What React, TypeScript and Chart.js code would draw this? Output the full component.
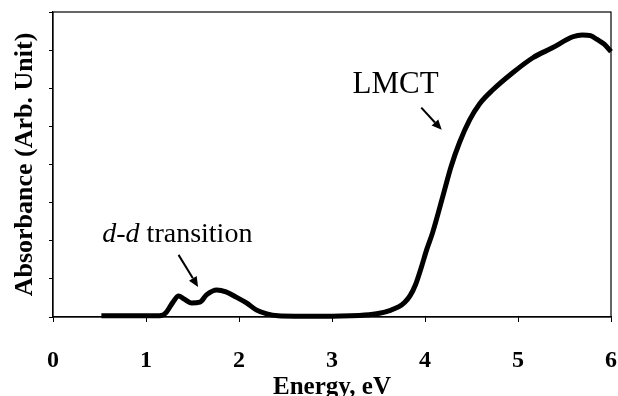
import React, { useEffect, useRef } from "react";
import { Chart, registerables } from "chart.js";

Chart.register(...registerables);

const energy = [0.52, 0.8, 1.1, 1.18, 1.22, 1.29, 1.35, 1.41, 1.49, 1.58, 1.65, 1.76, 1.86, 1.97, 2.08, 2.19, 2.3, 2.42, 2.6, 3.0, 3.2, 3.35, 3.51, 3.62, 3.72, 3.78, 3.84, 3.9, 3.96, 4.02, 4.08, 4.19, 4.28, 4.37, 4.48, 4.59, 4.73, 4.94, 5.16, 5.37, 5.59, 5.69, 5.78, 5.85, 5.93, 6.0];
const absorbance = [0.03, 0.03, 0.03, 0.05, 0.13, 0.39, 0.55, 0.47, 0.37, 0.39, 0.58, 0.71, 0.66, 0.52, 0.37, 0.18, 0.08, 0.03, 0.02, 0.02, 0.03, 0.05, 0.1, 0.17, 0.27, 0.38, 0.56, 0.86, 1.3, 1.78, 2.2, 3.15, 3.94, 4.57, 5.17, 5.6, 5.96, 6.4, 6.8, 7.06, 7.35, 7.4, 7.38, 7.28, 7.15, 6.96];

const xTitle = "Energy, eV";
const yTitle = "Absorbance (Arb. Unit)";
const ddItalic = "d-d";
const ddRest = " transition";
const lmctLabel = "LMCT";
// annotation anchors in data units [energy, absorbance]
const ddTextAt = [0.53, 1.97];
const ddArrow = [1.35, 1.63, 1.56, 0.79];
const lmctTextAt = [3.22, 5.88];
const lmctArrow = [3.96, 5.49, 4.18, 4.91];

const SERIF = "'Liberation Serif', 'Times New Roman', serif";

function drawArrow(ctx: CanvasRenderingContext2D, x1: number, y1: number, x2: number, y2: number) {
  const ang = Math.atan2(y2 - y1, x2 - x1);
  const hl = 10;
  const hw = 4.5;
  const bx = x2 - hl * Math.cos(ang);
  const by = y2 - hl * Math.sin(ang);
  ctx.beginPath();
  ctx.moveTo(x1, y1);
  ctx.lineTo(bx, by);
  ctx.lineWidth = 2;
  ctx.strokeStyle = "#000";
  ctx.stroke();
  ctx.beginPath();
  ctx.moveTo(x2, y2);
  ctx.lineTo(bx + hw * Math.sin(ang), by - hw * Math.cos(ang));
  ctx.lineTo(bx - hw * Math.sin(ang), by + hw * Math.cos(ang));
  ctx.closePath();
  ctx.fillStyle = "#000";
  ctx.fill();
}

const annotations = {
  id: "annotations",
  afterDraw(chart: any) {
    const { ctx, chartArea, scales } = chart;
    const xs = scales.x;
    const ys = scales.y;
    ctx.save();
    // plot box
    ctx.strokeStyle = "#000";
    ctx.lineWidth = 1.2;
    ctx.strokeRect(chartArea.left, chartArea.top, chartArea.right - chartArea.left, chartArea.bottom - chartArea.top);
    ctx.textBaseline = "alphabetic";
    ctx.textAlign = "left";
    ctx.fillStyle = "#000";
    // d-d transition
    let tx = xs.getPixelForValue(ddTextAt[0]);
    const ty = ys.getPixelForValue(ddTextAt[1]);
    ctx.font = `italic 28px ${SERIF}`;
    ctx.fillText(ddItalic, tx, ty);
    tx += ctx.measureText(ddItalic).width;
    ctx.font = `28px ${SERIF}`;
    ctx.fillText(ddRest, tx, ty);
    drawArrow(ctx, xs.getPixelForValue(ddArrow[0]), ys.getPixelForValue(ddArrow[1]), xs.getPixelForValue(ddArrow[2]), ys.getPixelForValue(ddArrow[3]));
    // LMCT
    ctx.font = `31px ${SERIF}`;
    ctx.fillText(lmctLabel, xs.getPixelForValue(lmctTextAt[0]), ys.getPixelForValue(lmctTextAt[1]));
    drawArrow(ctx, xs.getPixelForValue(lmctArrow[0]), ys.getPixelForValue(lmctArrow[1]), xs.getPixelForValue(lmctArrow[2]), ys.getPixelForValue(lmctArrow[3]));
    ctx.restore();
  },
};

export default function App() {
  const ref = useRef<HTMLCanvasElement | null>(null);
  useEffect(() => {
    if (!ref.current) return;
    const chart = new Chart(ref.current, {
      type: "line",
      data: {
        datasets: [
          {
            data: energy.map((e, i) => ({ x: e, y: absorbance[i] })),
            borderColor: "#000",
            borderWidth: 5,
            pointRadius: 0,
            fill: false,
            cubicInterpolationMode: "monotone",
            clip: false as any,
          },
        ],
      },
      options: {
        animation: false,
        responsive: false,
        layout: { padding: { top: 12, right: 7, left: 0, bottom: 0 } },
        plugins: { legend: { display: false }, tooltip: { enabled: false } },
        scales: {
          x: {
            type: "linear",
            min: 0,
            max: 6,
            afterFit: (s: any) => {
              s.height = 79;
              s.paddingLeft = 0;
              s.paddingRight = 0;
            },
            ticks: {
              stepSize: 1,
              color: "#000",
              padding: 24,
              maxRotation: 0,
              font: { family: SERIF, size: 24, weight: "bold" },
            },
            grid: { drawOnChartArea: false, drawTicks: true, tickLength: 5, color: "#000" },
            border: { display: true, color: "#000", width: 1.2 },
            title: {
              display: true,
              text: xTitle,
              color: "#000",
              font: { family: SERIF, size: 25, weight: "bold" },
              padding: { top: 0, bottom: -7 },
            },
          },
          y: {
            type: "linear",
            min: 0,
            max: 8,
            afterFit: (s: any) => {
              s.width = 53;
              s.paddingTop = 0;
              s.paddingBottom = 0;
            },
            ticks: { stepSize: 1, display: false },
            grid: { drawOnChartArea: false, drawTicks: true, tickLength: 4, color: "#000" },
            border: { display: true, color: "#000", width: 1.2 },
            title: {
              display: true,
              text: yTitle,
              color: "#000",
              font: { family: SERIF, size: 26, weight: "bold" },
              padding: { top: 10, bottom: 0 },
            },
          },
        },
      },
      plugins: [annotations],
    });
    return () => chart.destroy();
  }, []);
  return (
    <div style={{ position: "absolute", left: 0, top: 0, width: 618, height: 396, background: "#fff" }}>
      <canvas ref={ref} width={618} height={396} style={{ display: "block" }} />
    </div>
  );
}
